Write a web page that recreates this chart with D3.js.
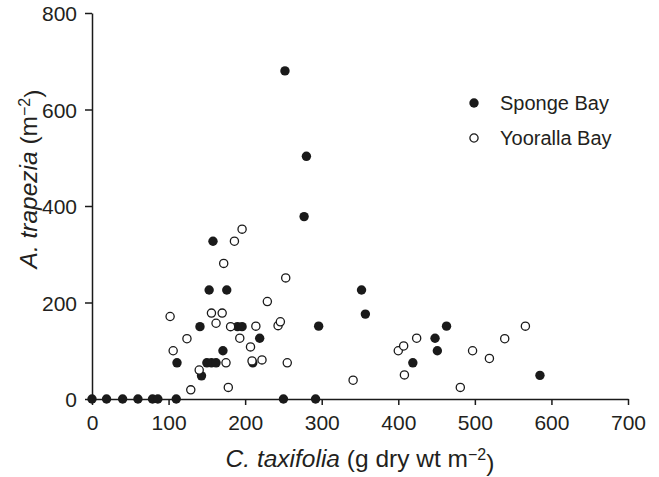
<!DOCTYPE html>
<html>
<head>
<meta charset="utf-8">
<script src="https://cdn.jsdelivr.net/npm/d3@7"></script>
<style>
  body { margin: 0; background: #fff; }
  text { font-family: "Liberation Sans", Arial, sans-serif; fill: #231f20; }
</style>
</head>
<body>
<div id="chart"></div>
<script>
// C. taxifolia biomass (x) vs A. trapezia density (y)
const spongeBay = [
  [0, 0], [19, 0], [40, 0], [60, 0], [79, 0], [86, 0], [110, 0], [250, 0], [292, 0],
  [252, 680], [280, 503], [277, 378], [352, 226], [357, 176], [296, 151],
  [153, 226], [176, 226], [158, 327], [141, 150], [190, 150], [196, 150],
  [219, 126], [171, 100], [111, 75], [150, 75], [156, 75], [162, 75],
  [143, 48], [210, 75], [419, 75], [448, 126], [451, 100], [463, 151], [585, 49]
];
const yoorallaBay = [
  [196, 352], [186, 327], [172, 281], [229, 202], [102, 171], [156, 178], [170, 178],
  [162, 157], [181, 150], [214, 151], [243, 152], [246, 160], [253, 251], [124, 125],
  [193, 126], [207, 108], [106, 100], [175, 75], [209, 79], [222, 81], [255, 75],
  [140, 60], [129, 19], [178, 24], [341, 39], [400, 100], [407, 110], [424, 126],
  [408, 50], [481, 24], [497, 100], [519, 84], [539, 125], [566, 151]
];
const xTicks = [0, 100, 200, 300, 400, 500, 600, 700];
const yTicks = [0, 200, 400, 600, 800];
const legendItems = ["Sponge Bay", "Yooralla Bay"];

const width = 659, height = 477;
const margin = { top: 13, right: 31, bottom: 78, left: 92 };
const ink = "#1a1a1a";

const svg = d3.select("#chart").append("svg")
  .attr("width", width)
  .attr("height", height);

const x = d3.scaleLinear().domain([0, 700]).range([margin.left, width - margin.right]);
const y = d3.scaleLinear().domain([0, 800]).range([height - margin.bottom, margin.top]);

// axes
const xAxis = svg.append("g")
  .attr("transform", `translate(0,${y(0)})`)
  .call(d3.axisBottom(x).tickValues(xTicks).tickSize(6).tickPadding(8).tickSizeOuter(0));
xAxis.selectAll("text").attr("dy", null).attr("y", 31).style("font-size", "21px");

const yAxis = svg.append("g")
  .attr("transform", `translate(${x(0)},0)`)
  .call(d3.axisLeft(y).tickValues(yTicks).tickSize(7).tickPadding(8).tickSizeOuter(0));
yAxis.selectAll("text").attr("dy", "0.36em").style("font-size", "21px");

svg.selectAll(".domain, .tick line").attr("stroke", ink).attr("stroke-width", 1.5);

// points: filled first, open on top
svg.selectAll(".sponge")
  .data(spongeBay)
  .enter()
  .append("circle")
  .attr("class", "sponge")
  .attr("cx", d => x(d[0]))
  .attr("cy", d => y(d[1]))
  .attr("r", 4.7)
  .attr("fill", ink);

svg.selectAll(".yooralla")
  .data(yoorallaBay)
  .enter()
  .append("circle")
  .attr("class", "yooralla")
  .attr("cx", d => x(d[0]))
  .attr("cy", d => y(d[1]))
  .attr("r", 4.1)
  .attr("fill", "#fff")
  .attr("stroke", ink)
  .attr("stroke-width", 1.3);

// legend
const legend = svg.append("g").attr("transform", "translate(474,103)");
legendItems.forEach((name, i) => {
  const g = legend.append("g").attr("transform", `translate(0,${i * 35})`);
  g.append("circle")
    .attr("r", i === 0 ? 4.7 : 4.1)
    .attr("fill", i === 0 ? ink : "#fff")
    .attr("stroke", i === 0 ? "none" : ink)
    .attr("stroke-width", 1.3);
  g.append("text")
    .attr("x", 26)
    .attr("dy", "0.36em")
    .style("font-size", "20px")
    .text(name);
});

// axis titles
const xt = svg.append("text")
  .attr("x", (x(0) + x(700)) / 2)
  .attr("y", 467)
  .attr("text-anchor", "middle")
  .style("font-size", "24.5px");
xt.append("tspan").style("font-style", "italic").text("C. taxifolia");
xt.append("tspan").text(" (g dry wt m");
xt.append("tspan").attr("dy", "-0.45em").style("font-size", "16px").text("\u22122");
xt.append("tspan").attr("dy", "0.45em").text(")");

const yt = svg.append("text")
  .attr("transform", `translate(37,${(margin.top + y(0)) / 2 - 27}) rotate(-90)`)
  .attr("text-anchor", "middle")
  .style("font-size", "24.5px");
yt.append("tspan").style("font-style", "italic").text("A. trapezia");
yt.append("tspan").text(" (m");
yt.append("tspan").attr("dy", "-0.45em").style("font-size", "16px").text("\u22122");
yt.append("tspan").attr("dy", "0.45em").text(")");
</script>
</body>
</html>
